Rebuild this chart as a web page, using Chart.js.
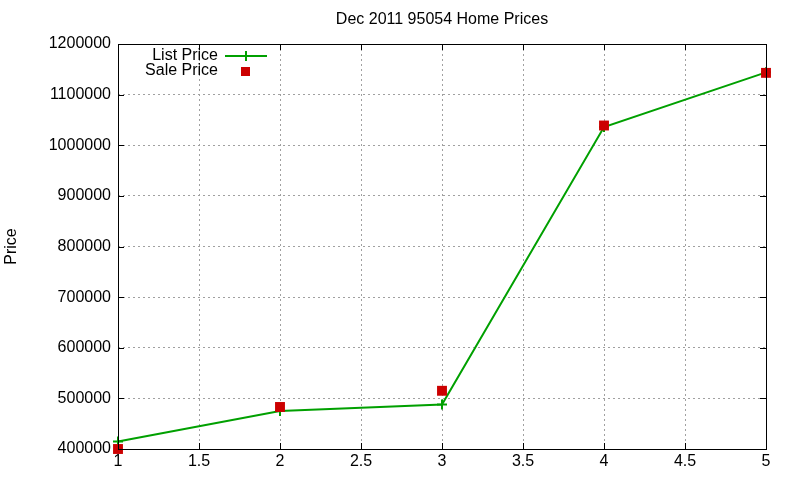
<!DOCTYPE html>
<html>
<head>
<meta charset="utf-8">
<script src="https://cdn.jsdelivr.net/npm/chart.js@4"></script>
<style>
  html, body { margin: 0; padding: 0; background: #fff; }
  #wrap { width: 800px; height: 480px; }
</style>
</head>
<body>
<div id="wrap"><canvas id="myChart" width="800" height="480"></canvas></div>
<script>
// data
const xValues = [1, 2, 3, 4, 5];
const listPrice = [415000, 475000, 488000, 1036000, 1144000];
const salePrice = [400000, 483000, 515000, 1039000, 1143000];
const titleText = 'Dec 2011 95054 Home Prices';
const yLabel = 'Price';

const FONT = '"Liberation Sans", Arial, sans-serif';
const GREEN = '#00a000';
const RED = '#cc0000';

// gnuplot-ish frame, inward ticks, title and legend
const gnuplotBits = {
    id: 'gnuplotBits',
    afterDraw(chart) {
        const ctx = chart.ctx;
        const a = chart.chartArea;
        const xs = chart.scales.x, ys = chart.scales.y;
        ctx.save();
        ctx.strokeStyle = '#000';
        ctx.lineWidth = 1;
        // inward ticks on all four sides
        ctx.beginPath();
        xs.ticks.forEach(t => {
            const px = Math.round(xs.getPixelForValue(t.value)) + 0.5;
            ctx.moveTo(px, a.bottom); ctx.lineTo(px, a.bottom - 6);
            ctx.moveTo(px, a.top); ctx.lineTo(px, a.top + 6);
        });
        ys.ticks.forEach(t => {
            const py = Math.round(ys.getPixelForValue(t.value)) + 0.5;
            ctx.moveTo(a.left, py); ctx.lineTo(a.left + 6, py);
            ctx.moveTo(a.right, py); ctx.lineTo(a.right - 6, py);
        });
        ctx.stroke();
        ctx.strokeRect(Math.round(a.left) + 0.5, Math.round(a.top) + 0.5,
            Math.round(a.right - a.left), Math.round(a.bottom - a.top));

        // title
        ctx.fillStyle = '#000';
        ctx.font = '16px ' + FONT;
        ctx.textAlign = 'center';
        ctx.textBaseline = 'middle';
        ctx.fillText(titleText, (a.left + a.right) / 2, 20);

        // y axis label
        ctx.save();
        ctx.translate(12, (a.top + a.bottom) / 2);
        ctx.rotate(-Math.PI / 2);
        ctx.fillText(yLabel, 0, 0);
        ctx.restore();

        // legend inside the plot, top left
        ctx.textAlign = 'right';
        ctx.fillText(chart.data.datasets[0].label, 218, 56);
        ctx.fillText(chart.data.datasets[1].label, 218, 71);
        ctx.strokeStyle = GREEN;
        ctx.lineWidth = 2;
        ctx.beginPath();
        ctx.moveTo(225, 56); ctx.lineTo(267, 56);
        ctx.moveTo(246, 51); ctx.lineTo(246, 61);
        ctx.stroke();
        ctx.fillStyle = RED;
        ctx.fillRect(241, 67, 9, 9);
        ctx.restore();
    }
};

const ctx = document.getElementById('myChart').getContext('2d');
const chart = new Chart(ctx, {
    type: 'scatter',
    data: {
        datasets: [{
            label: 'List Price',
            data: xValues.map((x, i) => ({ x: x, y: listPrice[i] })),
            showLine: true,
            borderColor: GREEN,
            backgroundColor: GREEN,
            borderWidth: 2,
            pointStyle: 'cross',
            pointRadius: 5,
            pointBorderWidth: 2,
            pointBorderColor: GREEN,
            tension: 0,
            clip: false,
            order: 2
        }, {
            label: 'Sale Price',
            data: xValues.map((x, i) => ({ x: x, y: salePrice[i] })),
            showLine: false,
            pointStyle: 'rect',
            pointRadius: 7,
            pointBorderWidth: 0,
            backgroundColor: RED,
            borderColor: RED,
            clip: false,
            order: 1
        }]
    },
    options: {
        responsive: false,
        animation: false,
        layout: { padding: { top: 44, right: 34, left: 0, bottom: 0 } },
        plugins: {
            legend: { display: false },
            title: { display: false },
            tooltip: { enabled: false }
        },
        scales: {
            x: {
                type: 'linear',
                min: 1,
                max: 5,
                ticks: {
                    stepSize: 0.5,
                    color: '#000',
                    font: { family: FONT, size: 16 },
                    padding: 3,
                    maxRotation: 0,
                    callback: v => String(v)
                },
                grid: { color: '#a0a0a0', tickLength: 0, lineWidth: 1 },
                border: { display: false, dash: [2, 3] },
                afterFit(scale) { scale.height = 31; }
            },
            y: {
                min: 400000,
                max: 1200000,
                ticks: {
                    stepSize: 100000,
                    color: '#000',
                    font: { family: FONT, size: 16 },
                    padding: 7,
                    callback: v => String(v)
                },
                grid: { color: '#a0a0a0', tickLength: 0, lineWidth: 1 },
                border: { display: false, dash: [2, 3] },
                afterFit(scale) { scale.width = 118; }
            }
        }
    },
    plugins: [gnuplotBits]
});
</script>
</body>
</html>
